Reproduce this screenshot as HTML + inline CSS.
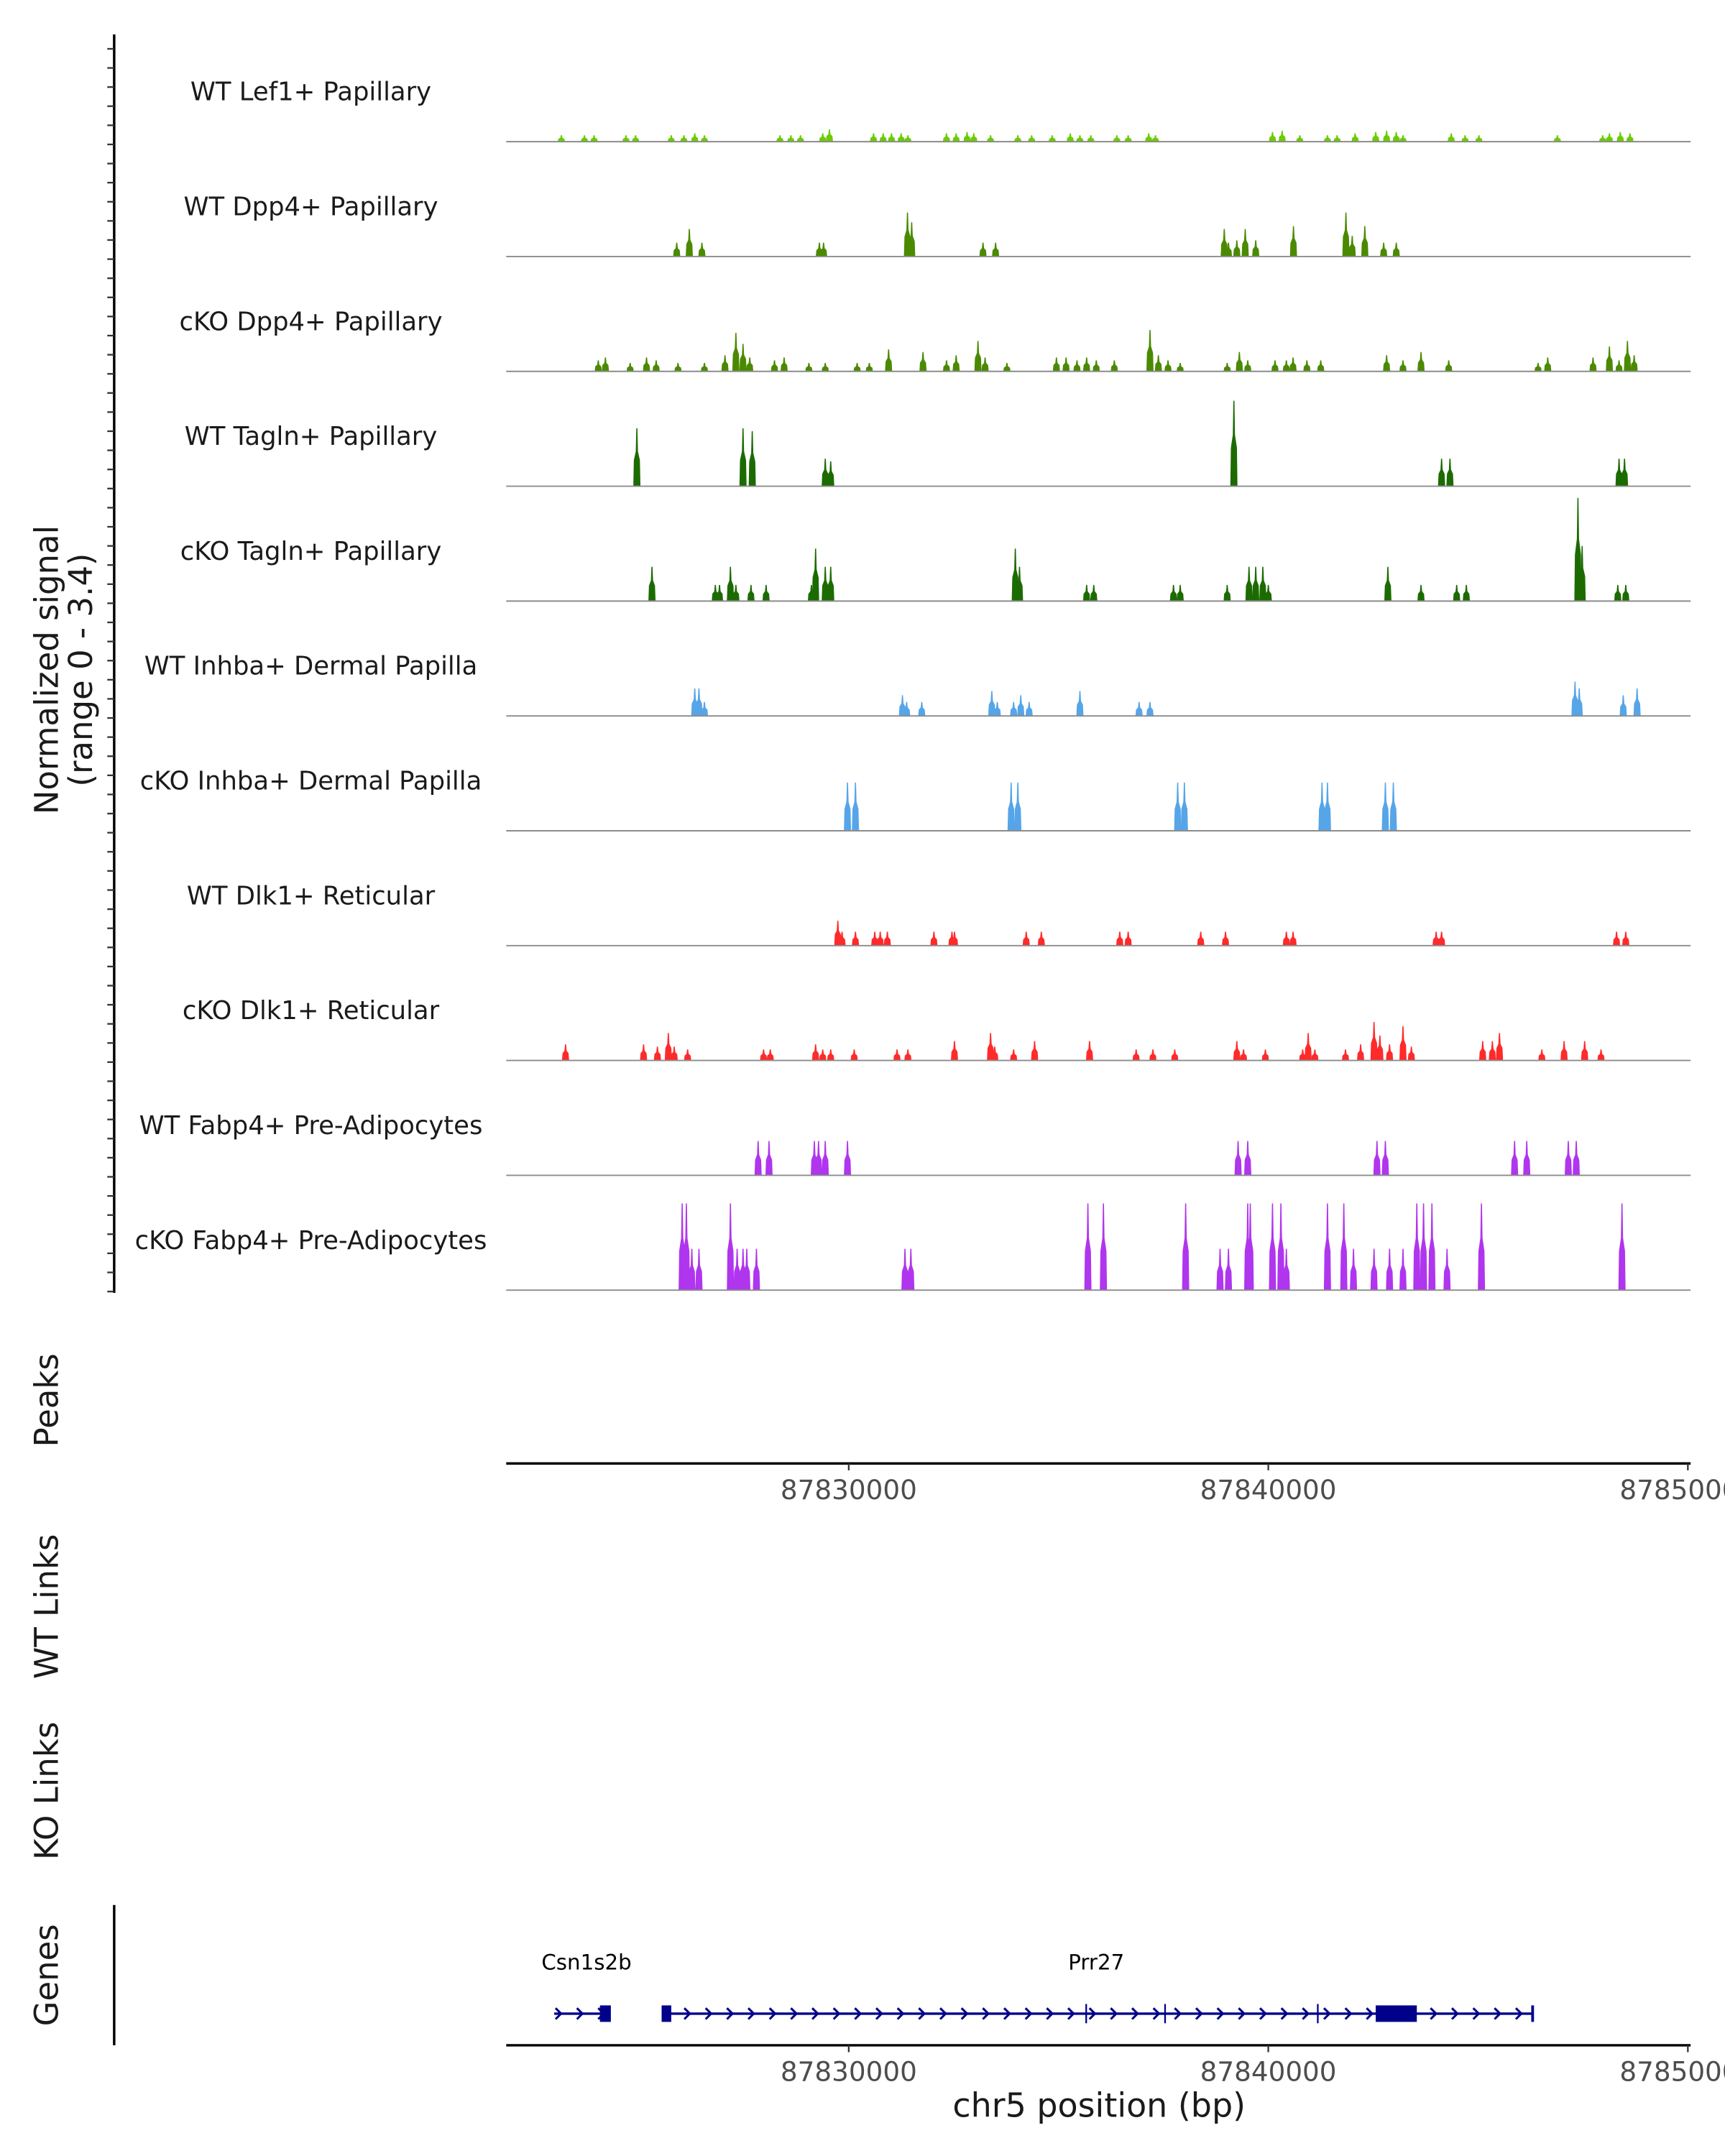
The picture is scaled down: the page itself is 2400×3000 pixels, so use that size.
<!DOCTYPE html>
<html><head><meta charset="utf-8"><style>
html,body{margin:0;padding:0;background:#fff;}
svg{display:block;font-family:"DejaVu Sans","Liberation Sans",sans-serif;}
</style></head><body>
<svg id="chart" width="2400" height="3000" viewBox="0 0 1254 1567.5" preserveAspectRatio="none" xmlns="http://www.w3.org/2000/svg">
<rect width="1254" height="1567.5" fill="#fff"/>
<g id="tracks"></g>
<g id="axes"></g>
</svg>
<script>
const trackNames = ["WT Lef1+ Papillary","WT Dpp4+ Papillary","cKO Dpp4+ Papillary","WT Tagln+ Papillary","cKO Tagln+ Papillary","WT Inhba+ Dermal Papilla","cKO Inhba+ Dermal Papilla","WT Dlk1+ Reticular","cKO Dlk1+ Reticular","WT Fabp4+ Pre-Adipocytes","cKO Fabp4+ Pre-Adipocytes"];
const trackColors = ["#6ACD00","#4A8A00","#4A8A00","#1B6B00","#1B6B00","#56A5E8","#56A5E8","#FF2A2A","#FF2A2A","#B035EE","#B035EE"];
const xTicks = [87830000, 87840000, 87850000];
const xTickLabels = ["87830000","87840000","87850000"];
const yRangeMax = 3.4;
const pos0 = [87823.15,87823.7,87823.93,87824.69,87824.92,87825.77,87826.07,87826.33,87826.56,87828.36,87828.62,87828.85,87829.38,87829.54,87830.59,87830.82,87831.02,87831.25,87831.41,87832.33,87832.56,87832.82,87832.98,87833.38,87834.03,87834.36,87834.85,87835.28,87835.51,87835.77,87836.39,87836.66,87837.15,87837.31,87840.1,87840.33,87840.75,87841.41,87841.64,87842.07,87842.56,87842.82,87843.05,87843.21,87844.36,87844.69,87845.02,87846.89,87847.97,87848.13,87848.39,87848.62];
const val0 = [0.2,0.2,0.2,0.2,0.2,0.2,0.2,0.26,0.2,0.2,0.2,0.2,0.26,0.38,0.26,0.26,0.26,0.26,0.2,0.26,0.26,0.3,0.26,0.2,0.2,0.2,0.2,0.26,0.2,0.2,0.2,0.2,0.26,0.2,0.3,0.34,0.2,0.2,0.2,0.26,0.3,0.34,0.3,0.2,0.26,0.2,0.2,0.2,0.2,0.26,0.3,0.26];
const pos1 = [87825.9,87826.2,87826.5,87829.3,87829.4,87831.4,87831.5,87833.2,87833.5,87838.95,87839.05,87839.25,87839.45,87839.7,87840.6,87841.85,87842.0,87842.3,87842.75,87843.05];
const val1 = [0.43,0.85,0.43,0.43,0.43,1.36,1.06,0.43,0.43,0.85,0.43,0.5,0.85,0.5,0.94,1.36,0.64,0.94,0.43,0.43];
const pos2 = [87824.03,87824.2,87824.79,87825.18,87825.41,87825.93,87826.56,87827.05,87827.31,87827.48,87827.64,87828.23,87828.46,87829.05,87829.44,87830.2,87830.49,87830.95,87831.77,87832.33,87832.56,87833.08,87833.25,87833.77,87834.95,87835.18,87835.44,87835.67,87835.9,87836.33,87837.18,87837.38,87837.61,87837.9,87839.02,87839.31,87839.51,87840.16,87840.43,87840.59,87840.92,87841.25,87842.82,87843.21,87843.64,87844.3,87846.43,87846.66,87847.74,87848.13,87848.36,87848.56,87848.72];
const val2 = [0.34,0.43,0.26,0.43,0.34,0.26,0.26,0.5,1.19,0.85,0.43,0.34,0.43,0.26,0.26,0.26,0.26,0.68,0.6,0.34,0.5,0.94,0.43,0.26,0.43,0.43,0.34,0.43,0.34,0.34,1.28,0.5,0.34,0.26,0.26,0.6,0.34,0.34,0.34,0.43,0.34,0.34,0.5,0.34,0.6,0.34,0.26,0.43,0.43,0.77,0.34,0.94,0.5];
const pos3 = [87824.95,87827.48,87827.7,87829.44,87829.57,87839.18,87844.13,87844.33,87848.36,87848.49];
const val3 = [1.79,1.79,1.7,0.85,0.77,2.64,0.85,0.85,0.85,0.85];
const pos4 = [87825.31,87826.82,87826.92,87827.18,87827.31,87827.67,87828.03,87829.11,87829.21,87829.44,87829.57,87833.97,87834.07,87835.67,87835.84,87837.74,87837.9,87839.02,87839.54,87839.7,87839.87,87840.0,87842.85,87843.64,87844.49,87844.72,87847.38,87847.48,87848.33,87848.52];
const val4 = [1.06,0.5,0.5,1.06,0.5,0.5,0.5,0.5,1.62,1.06,1.06,1.62,1.06,0.5,0.5,0.5,0.5,0.5,1.06,1.06,1.06,0.5,1.06,0.5,0.5,0.5,3.19,1.7,0.5,0.5];
const pos5 = [87826.33,87826.43,87826.56,87831.28,87831.38,87831.74,87833.41,87833.54,87833.93,87834.1,87834.3,87835.51,87836.92,87837.18,87847.31,87847.41,87848.46,87848.79];
const val5 = [0.85,0.85,0.43,0.64,0.43,0.43,0.77,0.43,0.43,0.64,0.43,0.77,0.43,0.43,1.06,0.85,0.64,0.85];
const pos6 = [87829.97,87830.16,87833.87,87834.03,87837.84,87838.0,87841.28,87841.41,87842.79,87842.98];
const val6 = [1.49,1.49,1.49,1.49,1.49,1.49,1.49,1.49,1.49,1.49];
const pos7 = [87829.74,87829.84,87830.16,87830.62,87830.75,87830.92,87832.03,87832.46,87832.52,87834.23,87834.59,87836.46,87836.66,87838.39,87838.98,87840.43,87840.59,87844.0,87844.13,87848.3,87848.52];
const val7 = [0.77,0.43,0.43,0.43,0.43,0.43,0.43,0.43,0.43,0.43,0.43,0.43,0.43,0.43,0.43,0.43,0.43,0.43,0.43,0.43,0.43];
const pos8 = [87823.25,87825.11,87825.44,87825.7,87825.84,87826.16,87827.97,87828.13,87829.21,87829.38,87829.57,87830.13,87831.15,87831.41,87832.52,87833.38,87833.48,87833.93,87834.43,87835.74,87836.85,87837.25,87837.77,87839.25,87839.41,87839.93,87840.82,87840.95,87841.11,87841.84,87842.2,87842.52,87842.66,87842.89,87843.21,87843.41,87845.11,87845.34,87845.51,87846.52,87847.05,87847.54,87847.93];
const val8 = [0.5,0.5,0.43,0.85,0.43,0.34,0.34,0.34,0.5,0.34,0.34,0.34,0.34,0.34,0.6,0.85,0.43,0.34,0.6,0.6,0.34,0.34,0.34,0.6,0.34,0.34,0.34,0.85,0.34,0.34,0.5,1.19,0.77,0.5,1.06,0.43,0.6,0.6,0.85,0.34,0.6,0.6,0.34];
const pos9 = [87827.84,87828.1,87829.18,87829.28,87829.44,87829.97,87839.28,87839.51,87842.59,87842.79,87845.87,87846.16,87847.15,87847.34];
const val9 = [1.06,1.06,1.06,1.06,1.06,1.06,1.06,1.06,1.06,1.06,1.06,1.06,1.06,1.06];
const pos10 = [87826.03,87826.13,87826.26,87826.43,87827.18,87827.34,87827.48,87827.57,87827.8,87831.34,87831.48,87835.7,87836.07,87838.03,87838.85,87839.05,87839.51,87839.57,87840.1,87840.3,87840.43,87841.41,87841.8,87842.03,87842.52,87842.89,87843.21,87843.54,87843.7,87843.9,87844.26,87845.08,87848.43];
const val10 = [2.68,2.68,1.28,1.28,2.68,1.28,1.28,1.28,1.28,1.28,1.28,2.68,2.68,2.68,1.28,1.28,2.68,2.68,2.68,2.68,1.28,2.68,2.68,1.28,1.28,1.28,1.28,2.68,2.68,2.68,1.28,2.68,2.68];
const trackPos = [pos0,pos1,pos2,pos3,pos4,pos5,pos6,pos7,pos8,pos9,pos10];
const trackVal = [val0,val1,val2,val3,val4,val5,val6,val7,val8,val9,val10];
const geneNames = ["Csn1s2b","Prr27"];
const geneStarts = [87822.98, 87825.54];
const geneEnds = [87824.3, 87846.3];
const geneLabelKb = [87823.75, 87835.9];
const exonStarts = [87824.07, 87825.54, 87835.64, 87837.52, 87841.16, 87842.56];
const exonEnds = [87824.33, 87825.77, 87835.7, 87837.56, 87841.2, 87843.54];
const exonThick = [1, 1, 0, 0, 0, 1];

const NS = "http://www.w3.org/2000/svg";
const X0 = 368, X1 = 1229;
const xScale = kb => 617 + (kb - 87830) * 30.5;
const xScaleBp = bp => xScale(bp / 1000);
const TH = 83.5, TOP = 103;
const yScale = (v, base) => base - v / yRangeMax * 80;
function mk(tag, attrs, parent) { const e = document.createElementNS(NS, tag); for (const k in attrs) e.setAttribute(k, attrs[k]); parent.appendChild(e); return e; }
const tracks = document.getElementById('tracks');
const axes = document.getElementById('axes');

trackNames.forEach((name, i) => {
  const base = TOP + i * TH;
  const g = mk('g', {}, tracks);
  
  
  const t = mk('text', {x: 226, y: base - 30, 'text-anchor': 'middle', 'font-size': 18.5, fill: '#1a1a1a'}, g);
  t.textContent = name;
  
  
  trackPos[i].forEach((p, j) => {
    const x = xScale(p), yt = yScale(trackVal[i][j], base), h = base - yt;
    const pts = [[x-2.6,base],[x-2.2,base-h*0.45],[x-0.8,base-h*0.6],[x-0.4,yt],[x+0.4,yt],[x+0.8,base-h*0.6],[x+2.2,base-h*0.45],[x+2.6,base]];
    const pk = mk('polygon', {points: pts.map(q => q.join(',')).join(' '), fill: trackColors[i]}, g);
    
    
  });
  const bl = mk('line', {x1: X0, x2: X1, y1: base, y2: base, stroke: '#8c8c8c', 'stroke-width': 1}, g);
  
  
});

const ya = mk('line', {x1: 83, x2: 83, y1: 25, y2: 940, stroke: '#000', 'stroke-width': 1.8}, axes);


for (let y = 35.5; y < 940; y += 13.9) {
  const tk = mk('line', {x1: 78, x2: 83, y1: y, y2: y, stroke: '#333', 'stroke-width': 1.2}, axes);
  
  
}
function vtext(txt, x, y, name, size) {
  const t = mk('text', {x: x, y: y, transform: `rotate(-90 ${x} ${y})`, 'text-anchor': 'middle', 'font-size': size || 23.5, fill: '#1a1a1a'}, axes);
  t.textContent = txt;
  
  
}
vtext('Normalized signal', 42, 487, 'y-axis-title');
vtext('(range 0 - 3.4)', 67, 487, 'y-axis-subtitle');
vtext('Peaks', 42, 1018, 'peaks-title');
vtext('WT Links', 42, 1168, 'wt-links-title');
vtext('KO Links', 42, 1302, 'ko-links-title');
vtext('Genes', 42, 1436, 'genes-title');

function xAxis(y, name) {
  const l = mk('line', {x1: X0, x2: X1, y1: y, y2: y, stroke: '#000', 'stroke-width': 1.8}, axes);
  
  
  xTicks.forEach((v, k) => {
    const x = xScaleBp(v);
    const tk = mk('line', {x1: x, x2: x, y1: y, y2: y + 5, stroke: '#333', 'stroke-width': 1.2}, axes);
    
    
    const t = mk('text', {x: x, y: y + 26, 'text-anchor': 'middle', 'font-size': 19.5, fill: '#4d4d4d'}, axes);
    t.textContent = xTickLabels[k];
    
    
  });
}
xAxis(1064, 'peaks-x-axis');
xAxis(1487, 'genes-x-axis');
const xt = mk('text', {x: 799, y: 1539, 'text-anchor': 'middle', 'font-size': 24, fill: '#1a1a1a'}, axes);
xt.textContent = 'chr5 position (bp)';


const gl = mk('line', {x1: 83, x2: 83, y1: 1385, y2: 1487, stroke: '#000', 'stroke-width': 1.8}, axes);



const GY = 1464, gc = '#00008B';
const genes = mk('g', {}, axes);


geneNames.forEach((n, i) => {
  const x1 = xScale(geneStarts[i]), x2 = xScale(geneEnds[i]);
  const ln = mk('line', {x1: x1, x2: x2, y1: GY, y2: GY, stroke: gc, 'stroke-width': 1.8}, genes);
  
  
  for (let x = x1 + 3; x < x2 - 4; x += 15.5) {
    const c = mk('path', {d: `M${x-2},${GY-4} L${x+2},${GY} L${x-2},${GY+4}`, stroke: gc, 'stroke-width': 1.6, fill: 'none'}, genes);
    
    
  }
  const t = mk('text', {x: xScale(geneLabelKb[i]), y: 1432, 'text-anchor': 'middle', 'font-size': 15.3, fill: '#000'}, genes);
  t.textContent = n;
  
  
});
exonStarts.forEach((s, i) => {
  const x1 = xScale(s), x2 = xScale(exonEnds[i]);
  const hh = exonThick[i] ? 6 : 7;
  const w = exonThick[i] ? Math.max(x2 - x1, 3) : 1.2;
  const r = mk('rect', {x: x1, y: GY - hh, width: w, height: hh * 2, fill: gc}, genes);
  
  
});
const endTick = mk('line', {x1: xScale(geneEnds[1]), x2: xScale(geneEnds[1]), y1: GY-6, y2: GY+6, stroke: gc, 'stroke-width': 2}, genes);


</script>
</body></html>
